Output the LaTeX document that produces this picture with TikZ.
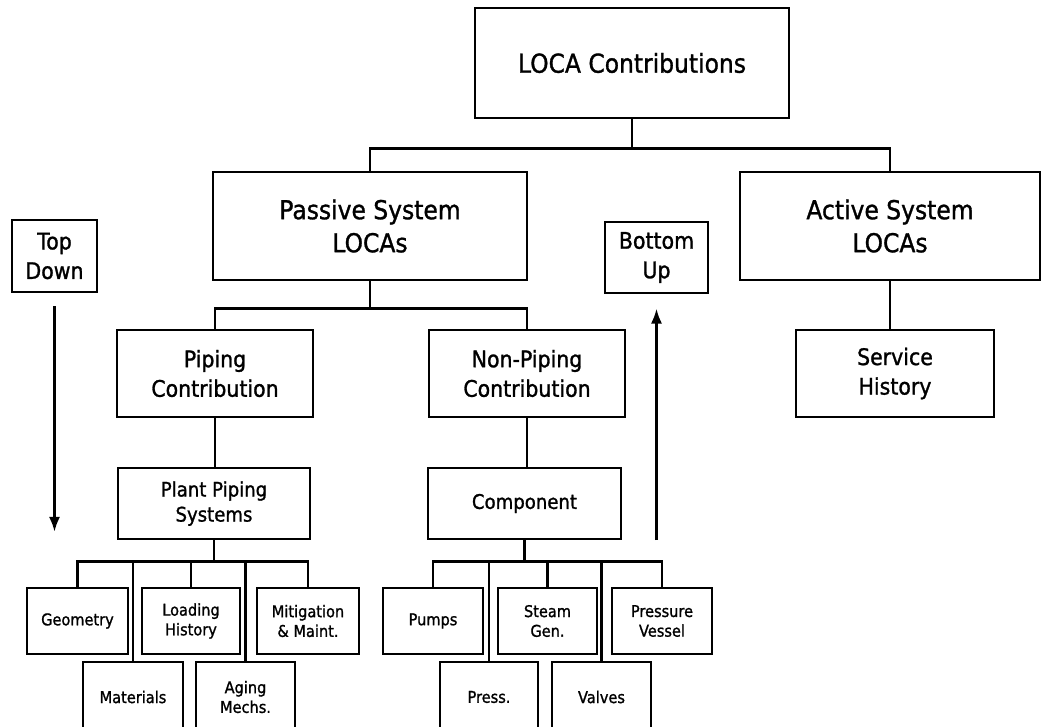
\documentclass[tikz,border=0pt]{standalone}
\usepackage{fontspec}
\setmainfont{DejaVu Sans}[FakeStretch=0.9, FakeBold=1.2]
\usetikzlibrary{arrows.meta}

\begin{document}
\begin{tikzpicture}[x=0.025cm, y=-0.025cm,
      box/.style={draw, line width=2pt, align=center, inner sep=0pt},
      bigbox/.style={box, font=\fontsize{18.5}{23.5}\selectfont},
      midbox/.style={box, font=\fontsize{16.2}{21}\selectfont},
      smallbox/.style={box, font=\fontsize{14.3}{17.8}\selectfont},
      tinybox/.style={box, font=\fontsize{11.5}{14}\selectfont},
      link/.style={line width=2pt},
      flow/.style={line width=2pt, -{Latex[length=3.8mm, width=2.8mm]}}]
      \useasboundingbox (0,0) rectangle (1042,726);
      \def \BigBoxes {
         loca/632/63/314/110/LOCA Contributions,
         passive/370/226/314/108/Passive System\\LOCAs,
         active/890/226/300/108/Active System\\LOCAs}
      \def \MidBoxes {
         topdown/54.5/256/85/72/Top\\Down,
         bottomup/656.5/257.5/103/71/Bottom\\Up,
         piping/215/373.5/196/87/Piping\\Contribution,
         nonpiping/527/373.5/196/87/Non-Piping\\Contribution,
         service/895/373.5/198/87/Service\\History}
      \def \SmallBoxes {
         plant/214/503.5/192/71/Plant Piping\\Systems,
         component/524.5/503.5/193/71/Component}
      \def \TinyBoxes {
         geometry/77.5/621/101/66/Geometry,
         loading/191/621/98/66/Loading\\History,
         mitigation/308/621/102/66/Mitigation\\\&~Maint.,
         pumps/433/621/100/66/Pumps,
         steam/547.5/621/99/66/Steam\\Gen.,
         vessel/662/621/100/66/Pressure\\Vessel,
         materials/133/697/100/70/Materials,
         aging/245.5/697/99/70/Aging\\Mechs.,
         press/489/697/98/70/Press.,
         valves/601.5/697/99/70/Valves}
      \foreach \u / \x / \y / \w / \h / \txt in \BigBoxes {
         \node[bigbox, minimum width=\w*0.025cm, minimum height=\h*0.025cm] (\u) at (\x, \y) {\txt};
      }
      \foreach \u / \x / \y / \w / \h / \txt in \MidBoxes {
         \node[midbox, minimum width=\w*0.025cm, minimum height=\h*0.025cm] (\u) at (\x, \y) {\txt};
      }
      \foreach \u / \x / \y / \w / \h / \txt in \SmallBoxes {
         \node[smallbox, minimum width=\w*0.025cm, minimum height=\h*0.025cm] (\u) at (\x, \y) {\txt};
      }
      \foreach \u / \x / \y / \w / \h / \txt in \TinyBoxes {
         \node[tinybox, minimum width=\w*0.025cm, minimum height=\h*0.025cm] (\u) at (\x, \y) {\txt};
      }
      % tree links
      \draw[link] (loca.south) -- ++(0,29) coordinate (lbus);
      \foreach \v in {passive, active} {
         \draw[link] (lbus) -| (\v.north);
      }
      \draw[link] (passive.south) -- ++(0,27) coordinate (pbus);
      \foreach \v in {piping, nonpiping} {
         \draw[link] (pbus) -| (\v.north);
      }
      \draw[link] (active.south) -- (active.south |- service.north);
      \draw[link] (piping.south) -- (piping.south |- plant.north);
      \draw[link] (nonpiping.south) -- (nonpiping.south |- component.north);
      \draw[link] (plant.south) -- ++(0,21) coordinate (sbus);
      \foreach \v in {geometry, materials, loading, aging, mitigation} {
         \draw[link] (sbus) -| (\v.north);
      }
      \draw[link] (component.south) -- ++(0,21) coordinate (cbus);
      \foreach \v in {pumps, press, steam, valves, vessel} {
         \draw[link] (cbus) -| (\v.north);
      }
      % direction arrows
      \coordinate (tdend) at (54.5, 532);
      \coordinate (bustart) at (656.5, 540);
      \draw[flow, shorten <=0.32cm] (topdown) -- (tdend);
      \draw[flow, shorten >=0.35cm] (bustart) -- (bottomup);
   \end{tikzpicture}
\end{document}
